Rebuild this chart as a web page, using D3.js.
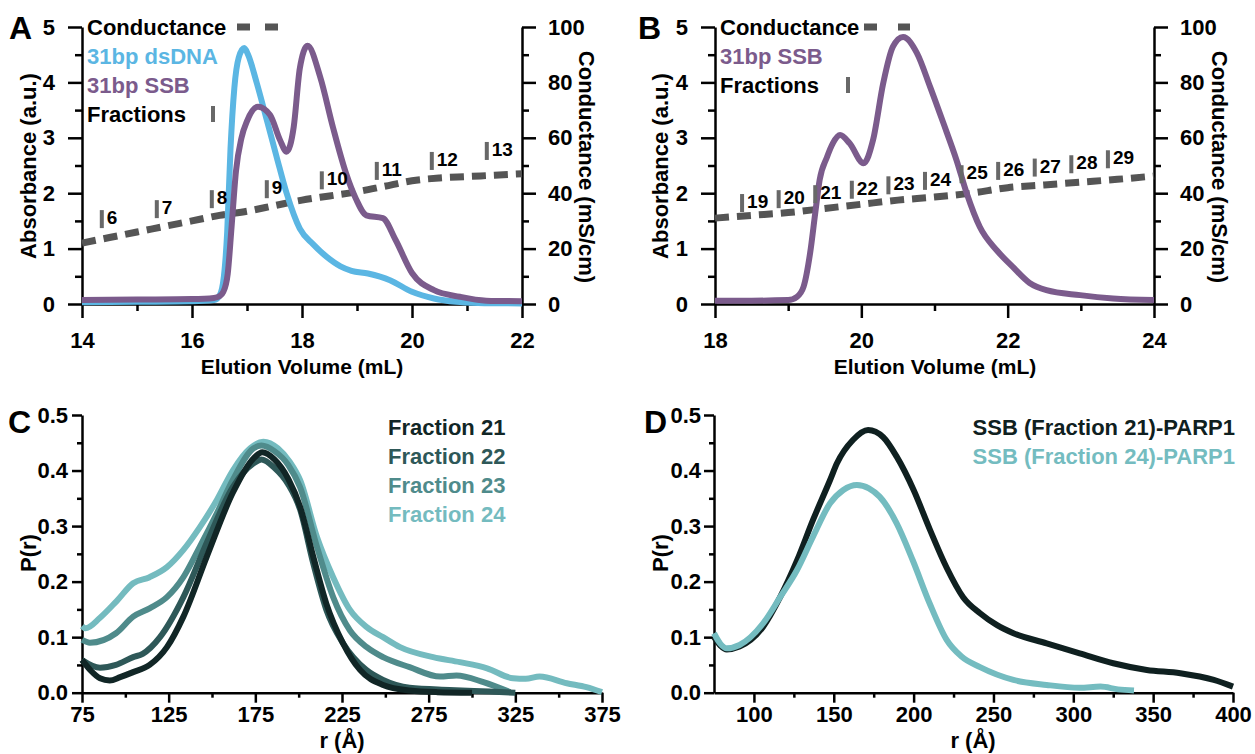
<!DOCTYPE html>
<html>
<head>
<meta charset="utf-8">
<script src="https://cdn.jsdelivr.net/npm/d3@7"></script>
<style>
body { margin: 0; background: #fff; }
text { font-family: "Liberation Sans", Arial, sans-serif; font-weight: bold; }
</style>
</head>
<body>
<script>

// ---------- A : 31bp dsDNA / 31bp SSB elution ----------
var aDnaVol = [14, 15, 16, 16.4, 16.5, 16.58, 16.64, 16.7, 16.77, 16.85, 16.95, 17.02, 17.18, 17.36, 17.54, 17.72, 17.96, 18.2, 18.45, 18.7, 18.9, 19.2, 19.6, 20.0, 20.4, 20.8, 21.2, 22];
var aDnaAbs = [0.03, 0.04, 0.05, 0.07, 0.15, 0.5, 1.3, 2.8, 3.9, 4.45, 4.62, 4.5, 3.98, 3.32, 2.65, 2.0, 1.36, 1.08, 0.85, 0.68, 0.6, 0.55, 0.43, 0.22, 0.1, 0.04, 0.02, 0.01];

var aSsbVol = [14, 15, 16, 16.4, 16.5, 16.57, 16.65, 16.72, 16.8, 16.9, 17.0, 17.2, 17.42, 17.6, 17.72, 17.85, 17.96, 18.1, 18.33, 18.56, 18.8, 18.98, 19.17, 19.47, 19.7, 20.0, 20.4, 20.87, 21.35, 22];
var aSsbAbs = [0.07, 0.08, 0.09, 0.11, 0.14, 0.22, 0.55, 1.4, 2.4, 3.0, 3.3, 3.56, 3.41, 2.96, 2.75, 3.2, 4.25, 4.66, 4.1, 3.2, 2.36, 1.9, 1.6, 1.55, 1.16, 0.56, 0.25, 0.13, 0.06, 0.05];

var aCondVol = [14, 14.5, 15, 15.5, 16, 16.5, 17, 17.5, 18, 18.5, 19, 19.5, 20, 20.5, 21, 21.5, 22];
var aCond = [22, 24, 26, 28, 30, 32, 33.5, 35.5, 37.5, 39, 40.5, 42.5, 44.5, 45.5, 46, 46.5, 47];

var aFracs = [6, 7, 8, 9, 10, 11, 12, 13];
var aFracVol = [14.36, 15.36, 16.36, 17.36, 18.36, 19.36, 20.36, 21.36];
var aFracAbs = [1.37, 1.55, 1.73, 1.91, 2.07, 2.24, 2.42, 2.6];

// ---------- B : 31bp SSB elution ----------
var bSsbVol = [18, 18.5, 19, 19.12, 19.21, 19.3, 19.37, 19.43, 19.53, 19.61, 19.71, 19.84, 20.03, 20.16, 20.3, 20.43, 20.57, 20.76, 20.94, 21.12, 21.3, 21.44, 21.62, 21.85, 22.07, 22.3, 22.53, 22.99, 23.44, 24];
var bSsbAbs = [0.06, 0.06, 0.07, 0.13, 0.31, 0.92, 1.64, 2.24, 2.65, 2.9, 3.05, 2.9, 2.54, 2.96, 3.99, 4.64, 4.82, 4.53, 3.92, 3.27, 2.6, 2.0, 1.39, 0.97, 0.67, 0.38, 0.25, 0.16, 0.1, 0.07];

var bCondVol = [18, 18.5, 19, 19.5, 20, 20.5, 21, 21.5, 22, 22.5, 23, 23.5, 24];
var bCond = [31, 32, 33, 34.5, 36, 37.5, 38.6, 40, 42, 43, 44, 45, 46.2];

var bFracs = [19, 20, 21, 22, 23, 24, 25, 26, 27, 28, 29];
var bFracVol = [18.37, 18.87, 19.37, 19.87, 20.37, 20.87, 21.37, 21.87, 22.37, 22.87, 23.37];
var bFracAbs = [1.66, 1.73, 1.82, 1.9, 1.98, 2.06, 2.18, 2.24, 2.3, 2.36, 2.45];

// ---------- C : P(r) of fractions ----------
var cNames = ["Fraction 21", "Fraction 22", "Fraction 23", "Fraction 24"];
var cF21R = [75, 80, 85.4, 91, 97, 104.5, 114, 124, 133.5, 147, 162, 174, 179, 186, 194, 200.8, 208.4, 216, 225.6, 235.4, 248.7, 264, 280, 300];
var cF21P = [0.059, 0.04, 0.026, 0.022, 0.028, 0.037, 0.05, 0.082, 0.137, 0.245, 0.36, 0.422, 0.433, 0.42, 0.385, 0.335, 0.245, 0.16, 0.089, 0.041, 0.014, 0.004, 0.001, 0];
var cF22R = [75, 85.4, 94.6, 104.5, 110, 120, 133.5, 147, 162, 174, 178.5, 186, 194, 200.8, 208.4, 216, 225.6, 239, 248.7, 264, 287, 310, 325];
var cF22P = [0.059, 0.045, 0.05, 0.064, 0.07, 0.1, 0.172, 0.27, 0.37, 0.413, 0.42, 0.405, 0.375, 0.33, 0.233, 0.149, 0.089, 0.041, 0.023, 0.009, 0.005, 0.002, 0];
var cF23R = [75, 79.6, 94.6, 104.5, 114, 124, 133.5, 143, 152.8, 162, 174, 178.5, 186, 194, 200.8, 210.6, 219.9, 229.6, 239.3, 248.7, 264, 281.6, 291, 306.6, 322];
var cF23P = [0.095, 0.09, 0.107, 0.137, 0.152, 0.172, 0.208, 0.263, 0.323, 0.383, 0.44, 0.445, 0.435, 0.41, 0.37, 0.262, 0.172, 0.112, 0.082, 0.064, 0.046, 0.029, 0.031, 0.019, 0.001];
var cF24R = [75, 77, 85.4, 95, 104.5, 114, 124, 133.5, 143, 152.8, 162, 172, 179.6, 188, 195, 200.8, 210.6, 219.9, 229.6, 239.3, 248.7, 258.5, 277.6, 293, 308.7, 323.7, 331, 339, 354.7, 366, 375];
var cF24P = [0.12, 0.116, 0.135, 0.165, 0.197, 0.208, 0.226, 0.257, 0.298, 0.347, 0.40, 0.44, 0.452, 0.44, 0.415, 0.383, 0.28, 0.208, 0.149, 0.118, 0.1, 0.082, 0.064, 0.055, 0.044, 0.026, 0.025, 0.029, 0.017, 0.01, 0.001];

// ---------- D : P(r) with PARP1 ----------
var dNames = ["SSB (Fraction 21)-PARP1", "SSB (Fraction 24)-PARP1"];
var dF21R = [75, 79, 83, 91, 105.8, 116.4, 127, 137, 147.7, 152, 162, 171.5, 181, 189.4, 200, 210, 220.7, 231, 241.6, 252, 262.5, 283.3, 304, 325, 346, 367, 388, 400];
var dF21P = [0.1, 0.085, 0.078, 0.083, 0.119, 0.172, 0.238, 0.311, 0.383, 0.413, 0.455, 0.473, 0.46, 0.425, 0.365, 0.295, 0.225, 0.172, 0.143, 0.122, 0.107, 0.089, 0.071, 0.053, 0.041, 0.035, 0.023, 0.011];
var dF24R = [75, 79, 83, 91, 105.8, 116.4, 127, 137, 147.7, 156, 164.5, 172, 178.7, 189.4, 199.5, 210, 220.7, 230, 241.6, 262.5, 283.3, 304, 317, 328, 338];
var dF24P = [0.107, 0.088, 0.08, 0.086, 0.125, 0.172, 0.221, 0.281, 0.341, 0.365, 0.374, 0.368, 0.353, 0.305, 0.238, 0.161, 0.095, 0.065, 0.046, 0.023, 0.014, 0.009, 0.011, 0.006, 0.004];

// colours
var purple = "#7b5b8c";
var blue = "#5bb6e3";
var condGray = "#555555";
var fracGray = "#686868";
var cColors = ["#112626", "#2e5858", "#4f8b8b", "#74bbbf"];
var dColors = ["#0f2020", "#74bcc0"];

var width = 1255, height = 754;

var svg = d3.select("body").append("svg")
    .attr("width", width)
    .attr("height", height);

// scales (absolute page coords)
var xA = d3.scaleLinear().domain([14, 22]).range([82, 522]);
var xB = d3.scaleLinear().domain([18, 24]).range([715, 1154]);
var yAbs = d3.scaleLinear().domain([0, 5]).range([304, 27]);
var yCond = d3.scaleLinear().domain([0, 100]).range([304, 27]);
var xC = d3.scaleLinear().domain([75, 375]).range([82, 602]);
var xD = d3.scaleLinear().domain([75, 400]).range([714, 1233]);
var yP = d3.scaleLinear().domain([0, 0.5]).range([692.7, 415]);

function addAxis(orient, scale, major, minor, fmt, len, pos, pad) {
  var make = {left: d3.axisLeft, right: d3.axisRight, bottom: d3.axisBottom}[orient];
  var tr = orient == "bottom" ? "translate(0," + pos + ")" : "translate(" + pos + ",0)";

  var gm = svg.append("g").attr("transform", tr)
      .call(make(scale).tickValues(minor).tickFormat("").tickSize(len / 2).tickSizeOuter(0));
  gm.select(".domain").remove();
  gm.selectAll("line").attr("stroke", "#000").attr("stroke-width", 2.5);

  var g = svg.append("g").attr("transform", tr)
      .call(make(scale).tickValues(major).tickFormat(fmt).tickSize(len).tickSizeOuter(0).tickPadding(pad));
  g.attr("font-size", 22).attr("font-family", null);
  g.select(".domain").attr("stroke", "#000").attr("stroke-width", 2.5);
  g.selectAll("line").attr("stroke", "#000").attr("stroke-width", 2.5);
  g.selectAll("text").attr("fill", "#000");
  return g;
}

function drawLine(xs, ys, xScale, yScale, color, w, dash) {
  var line = d3.line()
      .x(function(d) { return xScale(d[0]); })
      .y(function(d) { return yScale(d[1]); })
      .curve(d3.curveMonotoneX);
  var p = svg.append("path")
      .datum(d3.zip(xs, ys))
      .attr("d", line)
      .attr("fill", "none")
      .attr("stroke", color)
      .attr("stroke-width", w)
      .attr("stroke-linejoin", "round");
  if (dash) p.attr("stroke-dasharray", dash);
  return p;
}

function label(x, y, txt, size, color, anchor, rot) {
  var t = svg.append("text")
      .attr("x", x).attr("y", y)
      .attr("font-size", size)
      .attr("fill", color || "#000")
      .style("text-anchor", anchor || "start")
      .text(txt);
  if (rot) t.attr("transform", "rotate(" + rot + "," + x + "," + y + ")");
  return t;
}

function drawFractions(fracs, vols, levels, xScale) {
  fracs.forEach(function(f, i) {
    var xb = xScale(vols[i]);
    var yb = yAbs(levels[i]);
    svg.append("rect")
        .attr("x", xb - 2).attr("y", yb - 18)
        .attr("width", 4).attr("height", 18)
        .attr("fill", fracGray);
    label(xb + 5, yb - 4, f, 19, "#000", "start");
  });
}

// ================= A =================
addAxis("left", yAbs, d3.range(0, 6), d3.range(0.5, 5, 1), d3.format("d"), 14, 82, 13);
addAxis("right", yCond, d3.range(0, 101, 20), d3.range(10, 100, 20), d3.format("d"), 14, 522, 12);
addAxis("bottom", xA, [14, 16, 18, 20, 22], [15, 17, 19, 21], d3.format("d"), 14, 304, 14);

drawLine(aCondVol, aCond, xA, yCond, condGray, 7, "14,8");
drawLine(aDnaVol, aDnaAbs, xA, yAbs, blue, 6);
drawLine(aSsbVol, aSsbAbs, xA, yAbs, purple, 6);
drawFractions(aFracs, aFracVol, aFracAbs, xA);

label(36, 166, "Absorbance (a.u.)", 22, "#000", "middle", -90);
label(579, 167, "Conductance (mS/cm)", 22, "#000", "middle", 90);
label(302, 374, "Elution Volume (mL)", 21, "#000", "middle");
label(9, 39, "A", 32, "#000", "start");

// legend A
label(87, 35, "Conductance", 22, "#000", "start");
svg.append("line").attr("x1", 237).attr("x2", 278).attr("y1", 27).attr("y2", 27)
    .attr("stroke", condGray).attr("stroke-width", 7).attr("stroke-dasharray", "13,15");
label(87, 64, "31bp dsDNA", 22, blue, "start");
label(87, 93, "31bp SSB", 22, purple, "start");
label(87, 122, "Fractions", 22, "#000", "start");
svg.append("rect").attr("x", 211).attr("y", 106).attr("width", 4).attr("height", 16).attr("fill", fracGray);

// ================= B =================
addAxis("left", yAbs, d3.range(0, 6), d3.range(0.5, 5, 1), d3.format("d"), 14, 715, 13);
addAxis("right", yCond, d3.range(0, 101, 20), d3.range(10, 100, 20), d3.format("d"), 14, 1154, 12);
addAxis("bottom", xB, [18, 20, 22, 24], [19, 21, 23], d3.format("d"), 14, 304, 14);

drawLine(bCondVol, bCond, xB, yCond, condGray, 7, "14,8");
drawLine(bSsbVol, bSsbAbs, xB, yAbs, purple, 6);
drawFractions(bFracs, bFracVol, bFracAbs, xB);

label(668, 166, "Absorbance (a.u.)", 22, "#000", "middle", -90);
label(1212, 167, "Conductance (mS/cm)", 22, "#000", "middle", 90);
label(935, 374, "Elution Volume (mL)", 21, "#000", "middle");
label(638, 39, "B", 32, "#000", "start");

label(720, 35, "Conductance", 22, "#000", "start");
svg.append("line").attr("x1", 864).attr("x2", 910).attr("y1", 27).attr("y2", 27)
    .attr("stroke", condGray).attr("stroke-width", 7).attr("stroke-dasharray", "13,21");
label(720, 64, "31bp SSB", 22, purple, "start");
label(720, 93, "Fractions", 22, "#000", "start");
svg.append("rect").attr("x", 846).attr("y", 77).attr("width", 4).attr("height", 16).attr("fill", fracGray);

// ================= C =================
var pMajor = d3.range(0, 0.51, 0.1);
var pMinor = d3.range(0.05, 0.5, 0.1);
addAxis("left", yP, pMajor, pMinor, d3.format(".1f"), 10, 82, 4);
addAxis("bottom", xC, d3.range(75, 376, 50), d3.range(100, 376, 50), d3.format("d"), 10, 692.7, 4);

var cR = [cF21R, cF22R, cF23R, cF24R];
var cP = [cF21P, cF22P, cF23P, cF24P];
for (var i = 3; i >= 0; i--) {
  drawLine(cR[i], cP[i], xC, yP, cColors[i], 6);
}
cNames.forEach(function(n, i) {
  label(388, 435 + i * 29, n, 22, cColors[i], "start");
});

label(36, 553, "P(r)", 22, "#000", "middle", -90);
label(342, 748, "r (\u00c5)", 22, "#000", "middle");
label(8, 433, "C", 32, "#000", "start");

// ================= D =================
addAxis("left", yP, pMajor, pMinor, d3.format(".1f"), 10, 714, 3);
addAxis("bottom", xD, d3.range(100, 401, 50), d3.range(125, 401, 50), d3.format("d"), 10, 692.7, 4);

drawLine(dF21R, dF21P, xD, yP, dColors[0], 6);
drawLine(dF24R, dF24P, xD, yP, dColors[1], 6);
dNames.forEach(function(n, i) {
  label(1235, 435 + i * 29, n, 22, dColors[i], "end");
});

label(668, 553, "P(r)", 22, "#000", "middle", -90);
label(973, 748, "r (\u00c5)", 22, "#000", "middle");
label(644, 433, "D", 32, "#000", "start");

</script>
</body>
</html>
